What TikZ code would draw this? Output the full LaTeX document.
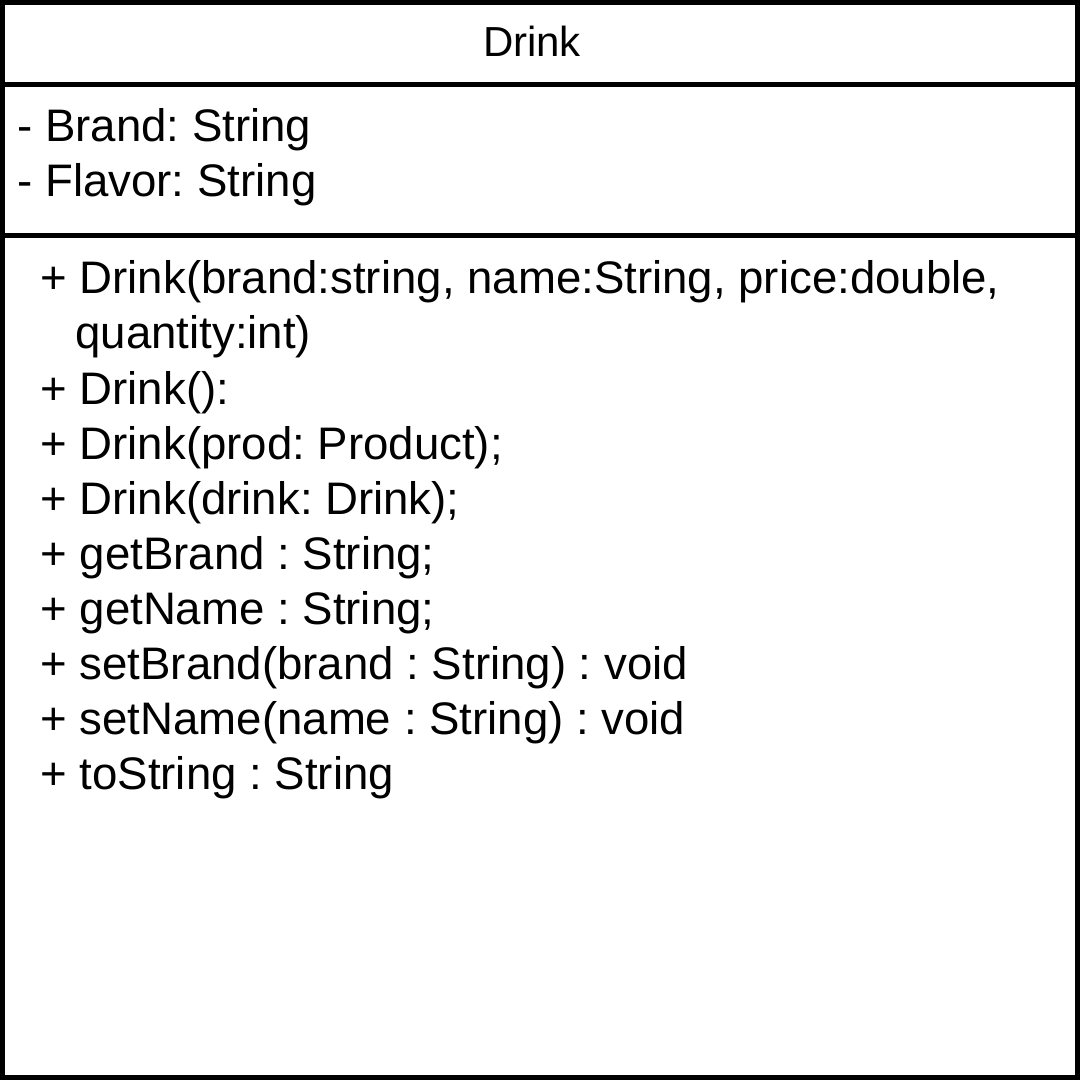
\documentclass[tikz,border=0pt]{standalone}
\usepackage{fontspec}
\setmainfont{Liberation Sans}
\frenchspacing
\begin{document}
\begin{tikzpicture}[x=0.5pt,y=-0.5pt,
  txt/.style={anchor=base west, inner sep=0pt, font=\fontsize{22.8}{27}\selectfont},
  ttl/.style={anchor=base, inner sep=0pt, font=\fontsize{21}{25}\selectfont},
  frame/.style={line width=2.5pt, draw=black}]
\useasboundingbox (0,0) rectangle (1080,1080);
\fill[white] (0,0) rectangle (1080,1080);
\draw[frame] (2.5,2.5) rectangle (1077.5,1077.5);
\draw[frame] (0,85) -- (1080,85);
\draw[frame] (0,235.5) -- (1080,235.5);
\node[ttl] (title) at (532,56.5) {Drink};
\node[txt] (a1) at (17,142) {- Brand: String};
\node[txt] (a2) at (17,197) {- Flavor: String};
\node[txt] (m1) at (40,294) {+ Drink(brand:string, name:String, price:double,};
\node[txt] (m1b) at (75,349) {quantity:int)};
\node[txt] (m2) at (40,404) {+ Drink():};
\node[txt] (m3) at (40,459) {+ Drink(prod: Product);};
\node[txt] (m4) at (40,514) {+ Drink(drink: Drink);};
\node[txt] (m5) at (40,569) {+ getBrand : String;};
\node[txt] (m6) at (40,624) {+ getName : String;};
\node[txt] (m7) at (40,679) {+ setBrand(brand : String) : void};
\node[txt] (m8) at (40,734) {+ setName(name : String) : void};
\node[txt] (m9) at (40,789) {+ toString : String};
\end{tikzpicture}
\end{document}
